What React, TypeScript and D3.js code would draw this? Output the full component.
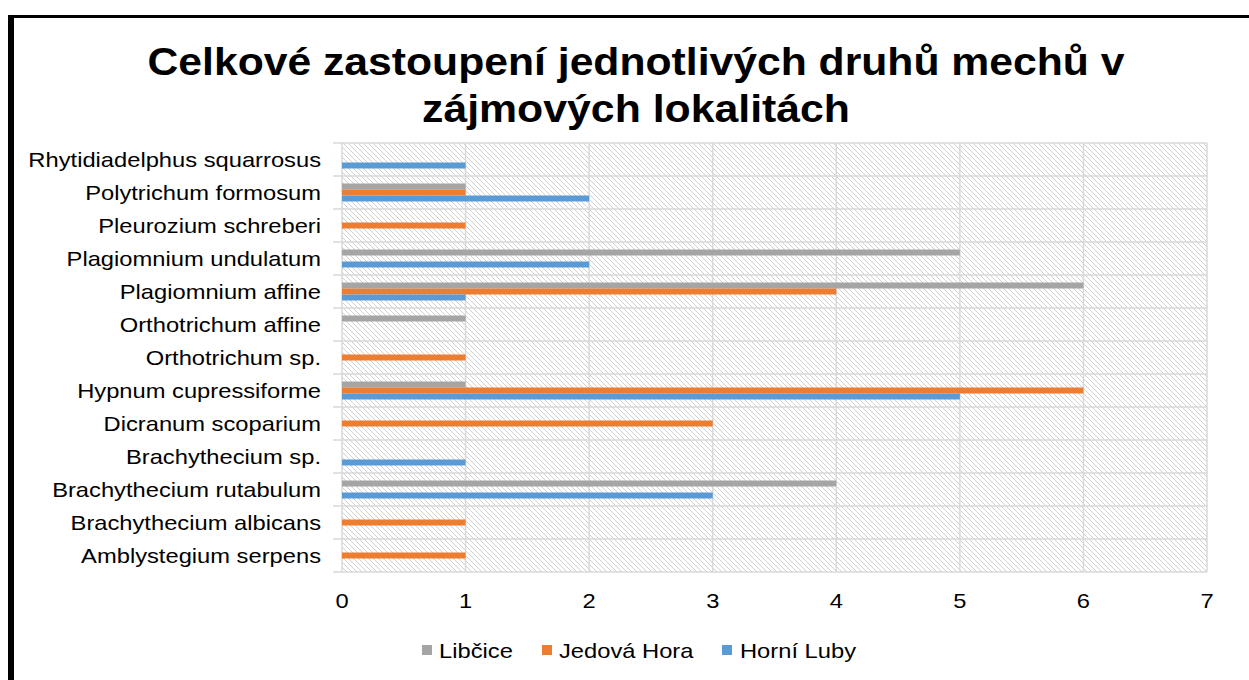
import React from 'react';
import * as d3 from 'd3';

// categories top to bottom as drawn
const species = [
  'Rhytidiadelphus squarrosus',
  'Polytrichum formosum',
  'Pleurozium schreberi',
  'Plagiomnium undulatum',
  'Plagiomnium affine',
  'Orthotrichum affine',
  'Orthotrichum sp.',
  'Hypnum cupressiforme',
  'Dicranum scoparium',
  'Brachythecium sp.',
  'Brachythecium rutabulum',
  'Brachythecium albicans',
  'Amblystegium serpens',
];

const seriesNames = ['Libčice', 'Jedová Hora', 'Horní Luby'];
const seriesColors = ['#a5a5a5', '#ed7d31', '#5b9bd5'];

const libcice = [0, 1, 0, 5, 6, 1, 0, 1, 0, 0, 4, 0, 0];
const jedovaHora = [0, 1, 1, 0, 4, 0, 1, 6, 3, 0, 0, 1, 1];
const horniLuby = [1, 2, 0, 2, 1, 0, 0, 5, 0, 1, 3, 0, 0];

const xTicks = [0, 1, 2, 3, 4, 5, 6, 7];
const titleLines = ['Celkové zastoupení jednotlivých druhů mechů v', 'zájmových lokalitách'];

const W = 1249;
const H = 680;
const plot = { left: 342, right: 1207, top: 143, bottom: 572 };
const SX = 1.13; // horizontal stretch of the source text
const FS = 21;
const font = 'Liberation Sans, Arial, sans-serif';
const grid = '#d9d9d9';

export default function App() {
  const values = [libcice, jedovaHora, horniLuby];
  const x = d3.scaleLinear().domain([0, 7]).range([plot.left, plot.right]);
  const y = d3.scaleBand<string>().domain(species).range([plot.top, plot.bottom]);
  const groupH = y.bandwidth() * 0.545;
  const inner = d3
    .scaleBand<number>()
    .domain([0, 1, 2])
    .range([(y.bandwidth() - groupH) / 2, (y.bandwidth() + groupH) / 2]);

  const bounds = species.map((s) => y(s) as number).concat(plot.bottom);
  const legendPos = [
    { sq: 422, tx: 439 },
    { sq: 542, tx: 559 },
    { sq: 722, tx: 740 },
  ];

  return (
    <svg
      width={W}
      height={H}
      style={{ position: 'absolute', left: 0, top: 0, background: '#fff' }}
    >
      <defs>
        <pattern id="hatch" width="5" height="5" patternUnits="userSpaceOnUse">
          <rect width="5" height="5" fill="#fff" />
          <path d="M-1,-1 L6,6 M-1,4 L1,6 M4,-1 L6,1" stroke="#d0d0d0" strokeWidth="1" />
        </pattern>
      </defs>

      {/* outer frame */}
      <rect x={8} y={15} width={W} height={3} fill="#000" />
      <rect x={8} y={15} width={6} height={H} fill="#000" />

      {/* title */}
      {titleLines.map((t, i) => (
        <text
          key={t}
          x={636}
          y={75 + i * 47}
          textAnchor="middle"
          fontFamily={font}
          fontWeight="bold"
          fontSize={38}
          textLength={i === 0 ? 977 : 428}
          lengthAdjust="spacingAndGlyphs"
        >
          {t}
        </text>
      ))}

      {/* plot background */}
      <rect
        x={plot.left}
        y={plot.top}
        width={plot.right - plot.left}
        height={plot.bottom - plot.top}
        fill="url(#hatch)"
      />

      {/* grid */}
      {xTicks.map((t) => (
        <line
          key={'v' + t}
          x1={x(t)}
          x2={x(t)}
          y1={plot.top}
          y2={plot.bottom}
          stroke={grid}
          strokeWidth={1.5}
        />
      ))}
      {bounds.map((b, i) => (
        <line
          key={'h' + i}
          x1={plot.left - 9}
          x2={plot.right}
          y1={b}
          y2={b}
          stroke={grid}
          strokeWidth={1.5}
        />
      ))}

      {/* bars */}
      {species.map((s, ci) => (
        <g key={s} transform={`translate(0,${y(s)})`}>
          {values.map((vals, si) =>
            vals[ci] > 0 ? (
              <rect
                key={si}
                x={x(0)}
                y={inner(si) as number}
                width={x(vals[ci]) - x(0)}
                height={inner.bandwidth()}
                fill={seriesColors[si]}
              />
            ) : null
          )}
        </g>
      ))}

      {/* category labels */}
      {species.map((s) => (
        <text
          key={'l' + s}
          transform={`translate(321,${(y(s) as number) + y.bandwidth() / 2 + 7.5}) scale(${SX},1)`}
          textAnchor="end"
          fontFamily={font}
          fontSize={FS}
          fill="#000"
        >
          {s}
        </text>
      ))}

      {/* x tick labels */}
      {xTicks.map((t) => (
        <text
          key={'t' + t}
          transform={`translate(${x(t)},608) scale(${SX},1)`}
          textAnchor="middle"
          fontFamily={font}
          fontSize={FS}
          fill="#000"
        >
          {t}
        </text>
      ))}

      {/* legend */}
      {seriesNames.map((n, i) => (
        <g key={n}>
          <rect x={legendPos[i].sq} y={645} width={10} height={10} fill={seriesColors[i]} />
          <text
            transform={`translate(${legendPos[i].tx},658) scale(${SX},1)`}
            fontFamily={font}
            fontSize={FS}
            fill="#000"
          >
            {n}
          </text>
        </g>
      ))}
    </svg>
  );
}
